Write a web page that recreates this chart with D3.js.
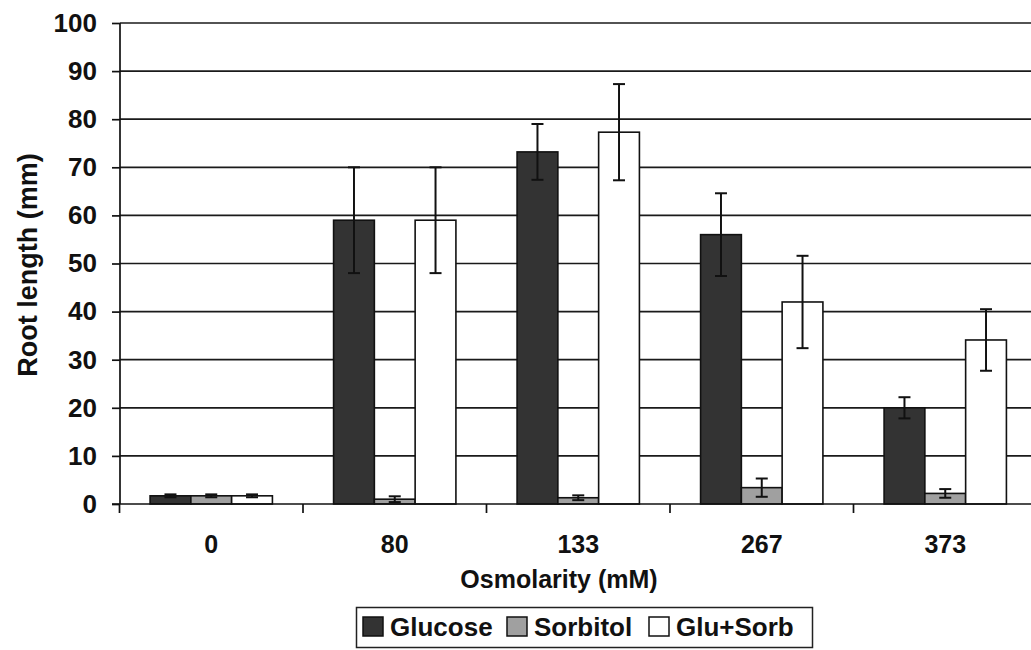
<!DOCTYPE html>
<html>
<head>
<meta charset="utf-8">
<script src="https://cdn.jsdelivr.net/npm/d3@7"></script>
<style>
  html, body { margin: 0; padding: 0; background: #fff; }
  svg { display: block; font-family: "Liberation Sans", Arial, sans-serif; font-weight: bold; }
</style>
</head>
<body>
<svg id="chart" width="1031" height="650"></svg>
<script>
// Osmolarity levels (mM) on the x axis
const categories = ["0", "80", "133", "267", "373"];
// Series names as shown in the legend
const seriesNames = ["Glucose", "Sorbitol", "Glu+Sorb"];
// Mean root length (mm) per series
const glucose  = [1.7, 59, 73.2, 56, 20];
const sorbitol = [1.7, 1.0, 1.3, 3.4, 2.2];
const gluSorb  = [1.7, 59, 77.3, 42, 34.1];
// Error bar half-widths (mm)
const glucoseErr  = [0.3, 11, 5.8, 8.6, 2.2];
const sorbitolErr = [0.3, 0.6, 0.5, 1.9, 0.9];
const gluSorbErr  = [0.3, 11, 10, 9.6, 6.4];
// Y axis tick values
const yTicks = [0, 10, 20, 30, 40, 50, 60, 70, 80, 90, 100];

const seriesFill = ["#333333", "#a0a0a0", "#ffffff"];
const seriesValues = [glucose, sorbitol, gluSorb];
const seriesErrs = [glucoseErr, sorbitolErr, gluSorbErr];

const svg = d3.select("#chart");
const W = 1031;

const x = d3.scaleBand().domain(categories).range([119.5, 1037]).paddingInner(0).paddingOuter(0);
const xs = d3.scaleBand().domain(seriesNames).range([0, x.bandwidth()]).paddingInner(0).paddingOuter(0.75);
const y = d3.scaleLinear().domain([0, 100]).range([504, 23]);

// Horizontal gridlines
svg.append("g")
  .selectAll("line")
  .data(yTicks.filter(t => t > 0))
  .join("line")
  .attr("x1", 120).attr("x2", W)
  .attr("y1", d => y(d)).attr("y2", d => y(d))
  .attr("stroke", "#1a1a1a").attr("stroke-width", 1.7);

// Flatten bar records
const bars = [];
categories.forEach((c, i) => {
  seriesNames.forEach((s, j) => {
    bars.push({ cat: c, series: s, j, value: seriesValues[j][i], err: seriesErrs[j][i] });
  });
});

// Bars
svg.append("g")
  .selectAll("rect")
  .data(bars)
  .join("rect")
  .attr("x", d => x(d.cat) + xs(d.series))
  .attr("width", xs.bandwidth())
  .attr("y", d => y(d.value))
  .attr("height", d => y(0) - y(d.value))
  .attr("fill", d => seriesFill[d.j])
  .attr("stroke", "#111")
  .attr("stroke-width", 1.6);

// Error bars
const eg = svg.append("g").attr("stroke", "#111").attr("stroke-width", 2);
const cap = 6;
bars.forEach(d => {
  const cx = x(d.cat) + xs(d.series) + xs.bandwidth() / 2;
  const yt = y(d.value + d.err), yb = y(d.value - d.err);
  eg.append("line").attr("x1", cx).attr("x2", cx).attr("y1", yt).attr("y2", yb);
  eg.append("line").attr("x1", cx - cap).attr("x2", cx + cap).attr("y1", yt).attr("y2", yt);
  eg.append("line").attr("x1", cx - cap).attr("x2", cx + cap).attr("y1", yb).attr("y2", yb);
});

// Y axis
const yAxis = d3.axisLeft(y).tickValues(yTicks).tickSize(8).tickPadding(15);
const gy = svg.append("g").attr("transform", "translate(120,0)").call(yAxis);
gy.select(".domain").attr("stroke", "#111").attr("stroke-width", 1.7).attr("d", `M0,${y(100)}V${y(0)}`);
gy.selectAll(".tick line").attr("stroke", "#111").attr("stroke-width", 1.7);
gy.selectAll(".tick text")
  .attr("font-size", 26).attr("font-weight", "bold").attr("fill", "#111")
  .attr("font-family", "'Liberation Sans', Arial, sans-serif");

// X axis baseline and category ticks
const gx = svg.append("g");
gx.append("line").attr("x1", 112).attr("x2", W).attr("y1", y(0)).attr("y2", y(0))
  .attr("stroke", "#111").attr("stroke-width", 1.7);
gx.selectAll("line.tk")
  .data(categories)
  .join("line").attr("class", "tk")
  .attr("x1", d => x(d)).attr("x2", d => x(d))
  .attr("y1", y(0)).attr("y2", y(0) + 9)
  .attr("stroke", "#111").attr("stroke-width", 1.7);
gx.selectAll("text")
  .data(categories)
  .join("text")
  .attr("x", d => x(d) + x.bandwidth() / 2)
  .attr("y", 553)
  .attr("text-anchor", "middle")
  .attr("font-size", 25)
  .attr("fill", "#111")
  .text(d => d);

// Axis titles
svg.append("text")
  .attr("x", 559).attr("y", 588)
  .attr("text-anchor", "middle")
  .attr("font-size", 25).attr("fill", "#111")
  .text("Osmolarity (mM)");

svg.append("text")
  .attr("transform", "translate(37,265) rotate(-90)")
  .attr("text-anchor", "middle")
  .attr("font-size", 27).attr("fill", "#111")
  .text("Root length (mm)");

// Legend
const legend = svg.append("g");
legend.append("rect")
  .attr("x", 356.5).attr("y", 607.5).attr("width", 456).attr("height", 40)
  .attr("fill", "#fff").attr("stroke", "#222").attr("stroke-width", 1.5);
const legendX = [363, 507, 649];
seriesNames.forEach((s, j) => {
  legend.append("rect")
    .attr("x", legendX[j]).attr("y", 617).attr("width", 20).attr("height", 19)
    .attr("fill", seriesFill[j]).attr("stroke", "#111").attr("stroke-width", 1.5);
  legend.append("text")
    .attr("x", legendX[j] + 27).attr("y", 636)
    .attr("font-size", 26).attr("fill", "#111")
    .text(s);
});
</script>
</body>
</html>
